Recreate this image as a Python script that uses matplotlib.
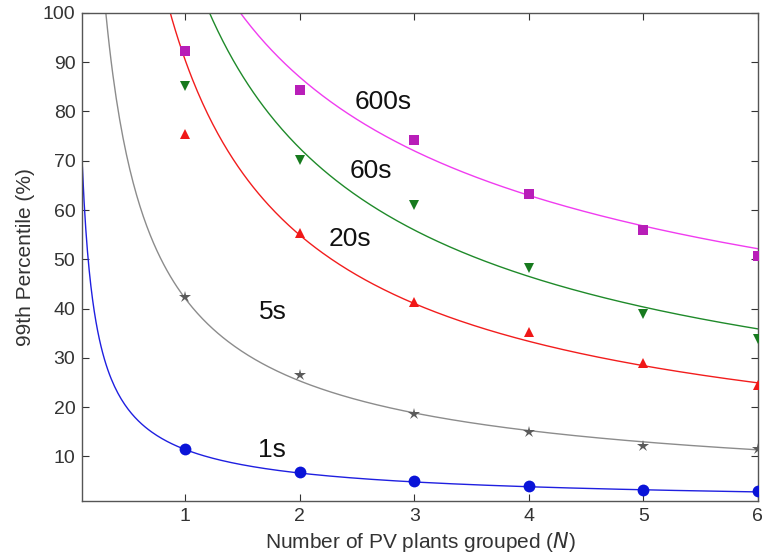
import numpy as np
import matplotlib
matplotlib.use("Agg")
import matplotlib.pyplot as plt

plt.rcParams['font.family'] = ['Liberation Sans', 'DejaVu Sans']

# number of PV plants grouped
n_plants = [1, 2, 3, 4, 5, 6]

# measured 99th percentile (%) per time scale
p_1s = [11.6, 6.9, 5.0, 4.0, 3.3, 2.9]
p_5s = [42.4, 26.6, 18.7, 15.0, 12.1, 11.5]
p_20s = [75.5, 55.3, 41.4, 35.3, 28.9, 24.6]
p_60s = [85.2, 70.2, 61.0, 48.2, 39.0, 33.8]
p_600s = [92.2, 84.3, 74.3, 63.2, 56.0, 50.7]

# fitted curves  a * N^-b
fit_a = [11.4, 42.0, 90.3, 113.0, 120.0]
fit_b = [0.78, 0.73, 0.718, 0.64, 0.465]

labels = ['1s', '5s', '20s', '60s', '600s']
label_pos = [(1.76, 11.3), (1.76, 39.3), (2.44, 54.2), (2.62, 68.0), (2.73, 82.0)]

line_colors = ['#1f1fe0', '#8c8c8c', '#f21d1d', '#1f8a2a', '#f03cf0']
marker_colors = ['#0a14d8', '#5a5a5a', '#f01818', '#177a1e', '#b81eb8']
markers = ['o', '*', '^', 'v', 's']
msizes = [8.5, 9, 7, 7, 6.5]

fig = plt.figure(figsize=(7.63, 5.59), dpi=100)
ax = fig.add_axes([0.108, 0.104, 0.885, 0.873])

series = [p_1s, p_5s, p_20s, p_60s, p_600s]
xs = np.linspace(0.1, 6.0, 400)
for vals, a, b, lc, mc, m, ms, lab, pos in zip(series, fit_a, fit_b, line_colors,
                                                marker_colors, markers, msizes,
                                                labels, label_pos):
    ax.plot(xs, a * xs ** (-b), color=lc, lw=1.0, zorder=2)
    ax.plot(n_plants, vals, linestyle='none', marker=m, color=mc,
            markersize=ms, markeredgewidth=0, zorder=3)
    ax.text(pos[0], pos[1], lab, fontsize=19, color='#111111',
            ha='center', va='center')

ax.set_xlim(0.1, 6.0)
ax.set_ylim(1, 100)
ax.set_xticks(n_plants)
ax.set_yticks(range(10, 101, 10))
ax.tick_params(direction='in', length=5, top=True, right=True,
               labelsize=14, colors='#333333', width=0.8, pad=5)
for s in ax.spines.values():
    s.set_color('#555555')
    s.set_linewidth(1.0)

ax.set_xlabel('Number of PV plants grouped ($\\mathit{N}$)', fontsize=15,
              color='#333333', labelpad=4)
ax.set_ylabel('99th Percentile (%)', fontsize=15, color='#333333', labelpad=6)

fig.savefig('out.png', dpi=100, facecolor='white')
